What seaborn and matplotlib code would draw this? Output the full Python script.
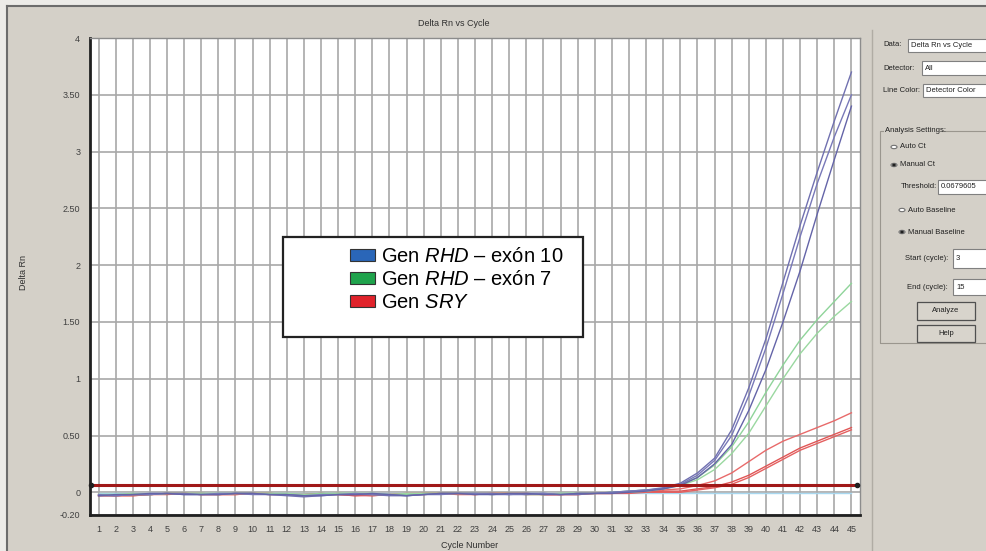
import pandas as pd
import matplotlib
matplotlib.use("Agg")
import matplotlib.pyplot as plt
from matplotlib.patches import Rectangle, Patch, Circle
from matplotlib.lines import Line2D
import seaborn as sns

plt.rcParams['font.family'] = ['Liberation Sans', 'DejaVu Sans']
plt.rcParams['mathtext.fontset'] = 'custom'
plt.rcParams['mathtext.rm'] = 'Liberation Sans'
plt.rcParams['mathtext.it'] = 'Liberation Sans:italic'

# ---- data ----
cycles = list(range(1, 46))

blue_1 = [-0.03, -0.03, -0.02, -0.02, -0.01, -0.01, -0.02, -0.02, -0.01, -0.01,
          -0.02, -0.03, -0.04, -0.03, -0.02, -0.02, -0.02, -0.03, -0.03, -0.02,
          -0.01, -0.01, -0.01, -0.01, -0.02, -0.02, -0.01, -0.02, -0.02, -0.01,
          0.00, 0.01, 0.02, 0.04, 0.08, 0.17, 0.30, 0.55, 0.92, 1.35,
          1.85, 2.35, 2.82, 3.27, 3.70]
blue_2 = [-0.02, -0.03, -0.02, -0.02, -0.01, -0.02, -0.02, -0.01, -0.01, -0.02,
          -0.02, -0.02, -0.03, -0.02, -0.02, -0.01, -0.02, -0.02, -0.03, -0.02,
          -0.02, -0.01, -0.01, -0.02, -0.02, -0.01, -0.01, -0.02, -0.01, -0.01,
          0.00, 0.01, 0.02, 0.03, 0.07, 0.15, 0.28, 0.50, 0.85, 1.27,
          1.75, 2.25, 2.72, 3.13, 3.50]
blue_3 = [-0.03, -0.02, -0.02, -0.01, -0.01, -0.02, -0.02, -0.02, -0.01, -0.01,
          -0.02, -0.02, -0.03, -0.03, -0.02, -0.02, -0.01, -0.02, -0.03, -0.02,
          -0.01, -0.01, -0.02, -0.02, -0.01, -0.01, -0.02, -0.02, -0.01, -0.01,
          -0.01, 0.00, 0.01, 0.03, 0.06, 0.13, 0.25, 0.42, 0.72, 1.08,
          1.50, 1.95, 2.45, 2.93, 3.40]
green_1 = [-0.02, -0.02, -0.02, -0.02, -0.01, -0.01, -0.01, -0.01, -0.01, -0.01,
           -0.01, -0.02, -0.02, -0.01, -0.01, -0.01, -0.01, -0.02, -0.02, -0.01,
           -0.01, -0.01, -0.01, -0.01, -0.01, -0.02, -0.02, -0.01, -0.01, -0.01,
           0.00, 0.01, 0.02, 0.03, 0.07, 0.13, 0.24, 0.40, 0.62, 0.88,
           1.12, 1.34, 1.52, 1.68, 1.84]
green_2 = [-0.02, -0.02, -0.01, -0.02, -0.01, -0.01, -0.01, -0.02, -0.01, -0.01,
           -0.01, -0.01, -0.02, -0.02, -0.01, -0.01, -0.02, -0.02, -0.01, -0.01,
           -0.01, -0.01, -0.01, -0.02, -0.01, -0.01, -0.02, -0.01, -0.01, -0.01,
           0.00, 0.00, 0.01, 0.03, 0.06, 0.11, 0.20, 0.34, 0.52, 0.76,
           1.00, 1.22, 1.40, 1.55, 1.68]
red_1 = [-0.03, -0.03, -0.03, -0.02, -0.01, -0.01, -0.02, -0.02, -0.02, -0.01,
         -0.01, -0.02, -0.02, -0.02, -0.02, -0.03, -0.03, -0.02, -0.02, -0.02,
         -0.01, -0.01, -0.01, -0.01, -0.01, -0.01, -0.02, -0.02, -0.02, -0.01,
         -0.01, 0.00, 0.01, 0.02, 0.03, 0.06, 0.10, 0.17, 0.27, 0.37,
         0.45, 0.51, 0.57, 0.63, 0.70]
red_2 = [-0.03, -0.03, -0.02, -0.02, -0.02, -0.01, -0.02, -0.02, -0.01, -0.01,
         -0.02, -0.02, -0.02, -0.01, -0.02, -0.03, -0.02, -0.02, -0.02, -0.01,
         -0.01, -0.01, -0.02, -0.01, -0.01, -0.02, -0.02, -0.02, -0.01, -0.01,
         -0.01, 0.00, 0.00, 0.01, 0.01, 0.03, 0.05, 0.09, 0.15, 0.23,
         0.31, 0.39, 0.45, 0.51, 0.57]
red_3 = [-0.02, -0.03, -0.03, -0.02, -0.01, -0.01, -0.01, -0.02, -0.02, -0.01,
         -0.01, -0.02, -0.02, -0.02, -0.01, -0.02, -0.03, -0.02, -0.01, -0.01,
         -0.01, -0.02, -0.02, -0.01, -0.01, -0.01, -0.02, -0.02, -0.02, -0.01,
         -0.01, -0.01, 0.00, 0.00, 0.00, 0.02, 0.04, 0.07, 0.13, 0.21,
         0.29, 0.37, 0.43, 0.49, 0.55]
ntc = [-0.01, -0.01, -0.01, -0.01, -0.01, -0.01, -0.01, -0.01, -0.01, -0.01,
       -0.01, -0.01, -0.01, -0.01, -0.01, -0.01, -0.01, -0.01, -0.01, -0.01,
       -0.01, -0.01, -0.01, -0.01, -0.01, -0.01, -0.01, -0.01, -0.01, -0.01,
       -0.01, -0.01, -0.01, -0.01, -0.01, -0.01, -0.01, -0.01, -0.01, -0.01,
       -0.01, -0.01, -0.01, -0.01, -0.01]

threshold = 0.0679605

ytick_vals = [-0.2, 0, 0.5, 1, 1.5, 2, 2.5, 3, 3.5, 4]
ytick_labels = ['-0.20', '0', '0.50', '1', '1.50', '2', '2.50', '3', '3.50', '4']

legend_labels = ['Gen $\\mathit{RHD}$ – exón 10',
                 'Gen $\\mathit{RHD}$ – exón 7',
                 'Gen $\\mathit{SRY}$']
legend_colors = ['#2a66b8', '#1fa34c', '#e0232b']

wells = {'ntc': ntc, 'red_1': red_1, 'red_2': red_2, 'red_3': red_3,
         'green_1': green_1, 'green_2': green_2,
         'blue_1': blue_1, 'blue_2': blue_2, 'blue_3': blue_3}
palette = {'ntc': '#a8d8f0', 'red_1': '#e86a6a', 'red_2': '#e05555', 'red_3': '#e46060',
           'green_1': '#8fd49a', 'green_2': '#9ad8a0',
           'blue_1': '#7070b0', 'blue_2': '#7878b8', 'blue_3': '#6464a8'}

rows = []
for name, vals in wells.items():
    for c, v in zip(cycles, vals):
        rows.append({'well': name, 'cycle': c, 'delta_rn': v})
df = pd.DataFrame(rows)

# ---- figure ----
W, H = 987, 551
BG = '#d4d0c8'


def fx(x):
    return x / W


def fy(y):
    return 1 - y / H


fig = plt.figure(figsize=(W / 100, H / 100), dpi=100, facecolor=BG)
ax = fig.add_axes([fx(90), fy(515), 770 / W, 477 / H])
ax.set_facecolor('white')

sns.lineplot(data=df, x='cycle', y='delta_rn', hue='well', palette=palette,
             hue_order=list(wells.keys()), linewidth=1.0, legend=False, ax=ax,
             estimator=None)

ax.axhline(threshold, color='#a01818', lw=2.2, zorder=5)
ax.plot([0.55, 45.35], [threshold, threshold], 'o', color='#202020', ms=3, zorder=6,
        clip_on=False)

ax.set_xlim(0.5, 45.5)
ax.set_ylim(-0.2, 4)
ax.set_xticks(cycles)
ax.set_xticklabels([str(c) for c in cycles])
ax.set_yticks(ytick_vals)
ax.set_yticklabels(ytick_labels)
ax.grid(True, color='#a8a8a8', lw=1.2)
ax.set_axisbelow(True)
ax.tick_params(axis='both', labelsize=6.5, labelcolor='#404040', length=0, pad=7)
ax.set_xlabel('')
ax.set_ylabel('')
for s in ['left', 'bottom']:
    ax.spines[s].set_color('#202020')
    ax.spines[s].set_linewidth(2)
for s in ['top', 'right']:
    ax.spines[s].set_color('#8c8c8c')
    ax.spines[s].set_linewidth(1)

fig.text(fx(454), fy(23), 'Delta Rn vs Cycle', fontsize=6.5, color='#303030',
         ha='center', va='center')
fig.text(fx(23), fy(272), 'Delta Rn', fontsize=6.5, color='#303030',
         ha='center', va='center', rotation=90)
fig.text(fx(470), fy(545), 'Cycle Number', fontsize=6.5, color='#303030',
         ha='center', va='center')

# window frame
fig.add_artist(Line2D([fx(7), fx(987)], [fy(6), fy(6)], color='#6c6c6c', lw=1.5,
                      transform=fig.transFigure))
fig.add_artist(Line2D([fx(7), fx(7)], [fy(6), fy(551)], color='#6c6c6c', lw=1.5,
                      transform=fig.transFigure))
fig.add_artist(Rectangle((0, fy(5)), 1, 5 / H, color='#ecebe8', transform=fig.transFigure))
fig.add_artist(Rectangle((0, 0), 6 / W, 1, color='#ecebe8', transform=fig.transFigure))

# legend box
fig.add_artist(Rectangle((fx(283), fy(337)), 300 / W, 100 / H, facecolor='white',
                         edgecolor='#222222', lw=1.6, transform=fig.transFigure, zorder=8))
handles = [Patch(facecolor=c, edgecolor='#333333', lw=0.8) for c in legend_colors]
fig.legend(handles, legend_labels, loc='upper left', bbox_to_anchor=(fx(350), fy(247)),
           frameon=False, fontsize=14.5, handlelength=1.25, handleheight=0.5,
           handletextpad=0.3, labelspacing=0.2, borderpad=0, borderaxespad=0
           ).set_zorder(9)

# right control panel
fig.add_artist(Line2D([fx(872), fx(872)], [fy(30), fy(551)], color='#b0aca4', lw=1,
                      transform=fig.transFigure))
small = dict(fontsize=5.5, color='#202020', va='center')


def textbox(x0, y0, x1, y1, txt):
    fig.add_artist(Rectangle((fx(x0), fy(y1)), (x1 - x0) / W, (y1 - y0) / H,
                             facecolor='white', edgecolor='#808080', lw=0.8,
                             transform=fig.transFigure))
    fig.text(fx(x0 + 3), fy((y0 + y1) / 2), txt, **small)


def radio(x, y, txt, on):
    fig.add_artist(Circle((fx(x), fy(y)), 3 / W, facecolor='white', edgecolor='#707070',
                          lw=0.8, transform=fig.transFigure))
    if on:
        fig.add_artist(Circle((fx(x), fy(y)), 1.2 / W, color='#202020',
                              transform=fig.transFigure))
    fig.text(fx(x + 6), fy(y), txt, **small)


def button(x0, y0, x1, y1, txt):
    fig.add_artist(Rectangle((fx(x0), fy(y1)), (x1 - x0) / W, (y1 - y0) / H,
                             facecolor='#d8d4cc', edgecolor='#505050', lw=0.9,
                             transform=fig.transFigure))
    fig.text(fx((x0 + x1) / 2), fy((y0 + y1) / 2), txt, ha='center', fontsize=5.5,
             color='#202020', va='center')


fig.text(fx(883), fy(45), 'Data:', **small)
textbox(908, 39, 992, 52, 'Delta Rn vs Cycle')
fig.text(fx(883), fy(68), 'Detector:', **small)
textbox(922, 61, 992, 75, 'All')
fig.text(fx(883), fy(90), 'Line Color:', **small)
textbox(923, 84, 992, 97, 'Detector Color')

fig.add_artist(Rectangle((fx(880), fy(343)), 120 / W, 212 / H, facecolor='none',
                         edgecolor='#9a968e', lw=0.8, transform=fig.transFigure))
fig.add_artist(Rectangle((fx(884), fy(135)), 58 / W, 9 / H, facecolor=BG,
                         edgecolor='none', transform=fig.transFigure))
fig.text(fx(885), fy(130), 'Analysis Settings:', **small)
radio(894, 147, 'Auto Ct', False)
radio(894, 165, 'Manual Ct', True)
fig.text(fx(901), fy(187), 'Threshold:', **small)
textbox(938, 180, 992, 194, '0.0679605')
radio(902, 210, 'Auto Baseline', False)
radio(902, 232, 'Manual Baseline', True)
fig.text(fx(905), fy(258), 'Start (cycle):', **small)
textbox(953, 249, 992, 268, '3')
fig.text(fx(907), fy(287), 'End (cycle):', **small)
textbox(953, 279, 992, 295, '15')
button(917, 302, 975, 320, 'Analyze')
button(917, 325, 975, 342, 'Help')

fig.savefig('out.png', dpi=100, facecolor=BG)
